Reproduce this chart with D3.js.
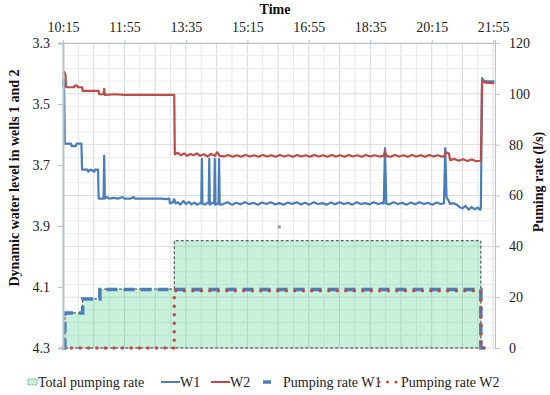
<!DOCTYPE html>
<html>
<head>
<meta charset="utf-8">
<script src="https://cdn.jsdelivr.net/npm/d3@7"></script>
<style>
  body { margin: 0; background: #fff; }
  .axis text { fill: #222; }
  .axis path, .axis line { stroke: #b9c3cc; }
  .title { font-weight: bold; fill: #111; }
  .legend text { fill: #222; }
</style>
</head>
<body>
<div id="chart"></div>
<script>
// tick labels
const timeTicks = ['10:15', '11:55', '13:35', '15:15', '16:55', '18:35', '20:15', '21:55']
const levelTicks = [3.3, 3.5, 3.7, 3.9, 4.1, 4.3]
const rateTicks = [0, 20, 40, 60, 80, 100, 120]

// dynamic water level, well 1 (m)
const levelW1 = [
  ['10:15', 3.44], ['10:16', 3.42], ['10:17', 3.47], ['10:18', 3.63], ['10:28', 3.63], ['10:29', 3.638],
  ['10:36', 3.638], ['10:37', 3.63], ['10:45', 3.63], ['10:46', 3.715], ['10:55', 3.715], ['10:56', 3.722],
  ['11:00', 3.715], ['11:06', 3.722], ['11:07', 3.715], ['11:12', 3.715], ['11:13', 3.81], ['11:21', 3.81],
  ['11:22', 3.67], ['11:23', 3.81], ['11:27', 3.805], ['11:30', 3.81], ['11:38', 3.808], ['11:45', 3.81],
  ['11:52', 3.805], ['11:55', 3.81], ['12:05', 3.81], ['12:10', 3.805], ['12:12', 3.81], ['12:25', 3.81],
  ['12:40', 3.81], ['12:55', 3.81], ['13:02', 3.812], ['13:08', 3.81], ['13:09', 3.826], ['13:14', 3.822],
  ['13:16', 3.812], ['13:18', 3.826], ['13:22', 3.822], ['13:26', 3.83], ['13:31', 3.818], ['13:35', 3.828],
  ['13:40', 3.821], ['13:44', 3.829], ['13:49', 3.823], ['13:53', 3.83], ['13:58', 3.825], ['14:00', 3.826],
  ['14:01', 3.68], ['14:02', 3.826], ['14:06', 3.83], ['14:10', 3.824], ['14:12', 3.826], ['14:13', 3.68],
  ['14:14', 3.83], ['14:18', 3.824], ['14:21', 3.826], ['14:22', 3.68], ['14:23', 3.83], ['14:27', 3.826],
  ['14:28', 3.826], ['14:29', 3.68], ['14:30', 3.83], ['14:36', 3.828], ['14:43', 3.822], ['14:50', 3.83],
  ['14:57', 3.824], ['15:04', 3.829], ['15:11', 3.822], ['15:18', 3.828], ['15:25', 3.824], ['15:32', 3.83],
  ['15:39', 3.823], ['15:46', 3.828], ['15:53', 3.822], ['16:00', 3.829], ['16:07', 3.825], ['16:14', 3.83],
  ['16:21', 3.823], ['16:28', 3.828], ['16:35', 3.822], ['16:42', 3.829], ['16:49', 3.824], ['16:56', 3.83],
  ['17:03', 3.822], ['17:10', 3.828], ['17:17', 3.825], ['17:24', 3.83], ['17:31', 3.823], ['17:38', 3.829],
  ['17:45', 3.822], ['17:52', 3.828], ['17:59', 3.824], ['18:06', 3.83], ['18:13', 3.822], ['18:20', 3.828],
  ['18:27', 3.825], ['18:34', 3.829], ['18:41', 3.822], ['18:48', 3.828], ['18:55', 3.824], ['18:57', 3.826],
  ['18:59', 3.645], ['19:01', 3.826], ['19:06', 3.829], ['19:13', 3.822], ['19:20', 3.828], ['19:27', 3.824],
  ['19:34', 3.83], ['19:41', 3.823], ['19:48', 3.829], ['19:55', 3.822], ['20:02', 3.828], ['20:09', 3.824],
  ['20:16', 3.83], ['20:23', 3.823], ['20:30', 3.828], ['20:35', 3.826], ['20:37', 3.645], ['20:39', 3.805],
  ['20:42', 3.815], ['20:45', 3.828], ['20:50', 3.825], ['20:56', 3.83], ['21:00', 3.838], ['21:05', 3.842],
  ['21:10', 3.834], ['21:15', 3.846], ['21:20', 3.838], ['21:25', 3.845], ['21:30', 3.84], ['21:34', 3.847],
  ['21:35', 3.84], ['21:37', 3.415], ['21:40', 3.424], ['21:45', 3.425], ['21:57', 3.426]
]

// dynamic water level, well 2 (m)
const levelW2 = [
  ['10:15', 3.40], ['10:17', 3.395], ['10:19', 3.405], ['10:20', 3.445], ['10:33', 3.445], ['10:34', 3.44],
  ['10:38', 3.44], ['10:39', 3.445], ['10:46', 3.445], ['10:47', 3.457], ['11:13', 3.457], ['11:14', 3.468],
  ['11:21', 3.468], ['11:22', 3.45], ['11:23', 3.47], ['11:40', 3.468], ['11:55', 3.47], ['12:20', 3.47],
  ['12:45', 3.47], ['13:16', 3.47], ['13:17', 3.665], ['13:22', 3.66], ['13:27', 3.668], ['13:32', 3.662],
  ['13:37', 3.67], ['13:42', 3.664], ['13:47', 3.668], ['13:53', 3.662], ['13:58', 3.67], ['14:04', 3.665],
  ['14:10', 3.672], ['14:16', 3.664], ['14:22', 3.67], ['14:26', 3.658], ['14:30', 3.67], ['14:37', 3.672],
  ['14:44', 3.667], ['14:51', 3.673], ['14:58', 3.668], ['15:05', 3.673], ['15:12', 3.667], ['15:19', 3.672],
  ['15:26', 3.668], ['15:33', 3.673], ['15:40', 3.667], ['15:47', 3.672], ['15:54', 3.668], ['16:01', 3.673],
  ['16:08', 3.667], ['16:15', 3.672], ['16:22', 3.668], ['16:29', 3.673], ['16:36', 3.667], ['16:43', 3.672],
  ['16:50', 3.668], ['16:57', 3.673], ['17:04', 3.667], ['17:11', 3.672], ['17:18', 3.668], ['17:25', 3.673],
  ['17:32', 3.667], ['17:39', 3.672], ['17:46', 3.668], ['17:53', 3.673], ['18:00', 3.667], ['18:07', 3.672],
  ['18:14', 3.668], ['18:21', 3.673], ['18:28', 3.667], ['18:35', 3.672], ['18:42', 3.668], ['18:50', 3.672],
  ['18:57', 3.67], ['18:59', 3.655], ['19:01', 3.67], ['19:08', 3.673], ['19:15', 3.667], ['19:22', 3.672],
  ['19:29', 3.668], ['19:36', 3.673], ['19:43', 3.667], ['19:50', 3.672], ['19:57', 3.668], ['20:04', 3.673],
  ['20:11', 3.667], ['20:18', 3.672], ['20:25', 3.668], ['20:32', 3.673], ['20:36', 3.67], ['20:38', 3.658],
  ['20:43', 3.662], ['20:45', 3.684], ['20:52', 3.68], ['20:59', 3.686], ['21:06', 3.681], ['21:13', 3.687],
  ['21:20', 3.682], ['21:27', 3.687], ['21:35', 3.686], ['21:37', 3.424], ['21:42', 3.43], ['21:57', 3.432]
]

// pumping rates (l/s)
const totalRate = [
  ['10:15', 0], ['10:18', 0], ['10:18', 13.8], ['10:47', 13.8], ['10:47', 19.3], ['11:15', 19.3],
  ['11:15', 23.2], ['13:16', 23.2], ['13:16', 42.2], ['21:35', 42.2], ['21:35', 0]
]
const rateW1 = [
  ['10:15', 0], ['10:18', 0], ['10:18', 13.8], ['10:47', 13.8], ['10:47', 19.3], ['11:15', 19.3],
  ['11:15', 23.0], ['21:35', 23.0], ['21:35', 0], ['21:50', 0]
]
const rateW2 = [
  ['10:15', 0], ['13:16', 0], ['13:16', 22.5], ['21:35', 22.5], ['21:35', 0], ['21:50', 0]
]
const strayMark = [['16:07', 3.903]]

const blue = '#4a7ebb'
const red = '#be4b48'
const serif = 'Liberation Serif'

const W = 550
const H = 395
const margin = { top: 43, right: 55, bottom: 47, left: 63 }

const parse = d3.timeParse('%H:%M')
const fmt = d3.timeFormat('%H:%M')

const svg = d3.select('#chart')
  .append('svg')
  .attr('width', W)
  .attr('height', H)
  .attr('font-family', serif)

const x = d3.scaleTime()
  .domain([parse('10:15'), parse('21:58')])
  .range([margin.left, W - margin.right])

const yLevel = d3.scaleLinear()
  .domain([3.3, 4.3])
  .range([margin.top, H - margin.bottom])

const yRate = d3.scaleLinear()
  .domain([0, 120])
  .range([H - margin.bottom, margin.top])

// gridlines
const grid = svg.append('g').attr('class', 'grid')
const vGrid = d3.range(0, 29).map(i => d3.timeMinute.offset(parse('10:15'), i * 25))
  .filter(d => d <= x.domain()[1])
grid.selectAll('line.v')
  .data(vGrid)
  .enter()
  .append('line')
  .attr('x1', d => x(d))
  .attr('x2', d => x(d))
  .attr('y1', margin.top)
  .attr('y2', H - margin.bottom)
  .attr('stroke', (d, i) => i % 2 === 0 ? '#d3d8dc' : '#e6e8ea')
  .attr('stroke-width', 1)

grid.selectAll('line.h')
  .data(d3.range(0, 121, 5))
  .enter()
  .append('line')
  .attr('x1', margin.left)
  .attr('x2', W - margin.right)
  .attr('y1', d => yRate(d))
  .attr('y2', d => yRate(d))
  .attr('stroke', d => d % 20 === 0 ? '#d9dcdf' : '#ebeced')
  .attr('stroke-width', 1)

const px = d => x(parse(d[0]))

// total pumping rate area
svg.append('path')
  .datum(totalRate)
  .attr('d', d3.area().x(px).y0(yRate(0)).y1(d => yRate(d[1])))
  .attr('fill', '#4ccc86')
  .attr('fill-opacity', 0.3)
  .attr('stroke', '#3a3a3a')
  .attr('stroke-width', 1)
  .attr('stroke-dasharray', '3,2')

// water levels
const levelLine = d3.line().x(px).y(d => yLevel(d[1]))
svg.append('path')
  .datum(levelW1)
  .attr('d', levelLine)
  .attr('fill', 'none')
  .attr('stroke', blue)
  .attr('stroke-width', 2.2)
  .attr('stroke-linejoin', 'round')

svg.append('path')
  .datum(levelW2)
  .attr('d', levelLine)
  .attr('fill', 'none')
  .attr('stroke', red)
  .attr('stroke-width', 2.2)
  .attr('stroke-linejoin', 'round')

// pumping rates of each well
const rateLine = d3.line().x(px).y(d => yRate(d[1]))
svg.append('path')
  .datum(rateW1)
  .attr('d', rateLine)
  .attr('fill', 'none')
  .attr('stroke', blue)
  .attr('stroke-width', 3.5)
  .attr('stroke-dasharray', '11,6')

svg.append('path')
  .datum(rateW2)
  .attr('d', rateLine)
  .attr('fill', 'none')
  .attr('stroke', red)
  .attr('stroke-width', 3.5)
  .attr('stroke-linecap', 'round')
  .attr('stroke-dasharray', '0,8.5')

svg.selectAll('rect.stray')
  .data(strayMark)
  .enter()
  .append('rect')
  .attr('x', d => px(d) - 1.5)
  .attr('y', d => yLevel(d[1]) - 1.5)
  .attr('width', 3)
  .attr('height', 3)
  .attr('fill', '#9a9a9a')

// axes
svg.append('g')
  .attr('class', 'axis')
  .attr('transform', `translate(${margin.left},0)`)
  .call(d3.axisLeft(yLevel).tickValues(levelTicks).tickFormat(d3.format('.1f')).tickSize(5).tickPadding(8))
  .attr('font-family', serif)
  .attr('font-size', 14)
  .call(g => g.select('.domain').attr('stroke-width', 2))

svg.append('g')
  .attr('class', 'axis')
  .attr('transform', `translate(${W - margin.right},0)`)
  .call(d3.axisRight(yRate).tickValues(rateTicks).tickSize(5).tickPadding(9))
  .attr('font-family', serif)
  .attr('font-size', 14)

svg.append('g')
  .attr('class', 'axis')
  .attr('transform', `translate(0,${margin.top})`)
  .call(d3.axisTop(x).tickValues(timeTicks.map(parse)).tickFormat(fmt).tickSize(3).tickPadding(8))
  .attr('font-family', serif)
  .attr('font-size', 14)

// titles
svg.append('text')
  .attr('class', 'title')
  .attr('x', 275)
  .attr('y', 14)
  .attr('font-size', 14)
  .attr('text-anchor', 'middle')
  .text('Time')

svg.append('text')
  .attr('class', 'title')
  .attr('transform', 'translate(19,178) rotate(-90)')
  .attr('font-size', 14)
  .attr('text-anchor', 'middle')
  .text('Dynamic water level in wells 1 and 2')

svg.append('text')
  .attr('class', 'title')
  .attr('transform', 'translate(542.5,182) rotate(-90)')
  .attr('font-size', 14)
  .attr('text-anchor', 'middle')
  .text('Puming rate (l/s)')

// legend
const lg = svg.append('g').attr('class', 'legend').attr('font-size', 14).attr('transform', 'translate(0,382)')
lg.append('rect')
  .attr('x', 28).attr('y', -3).attr('width', 9).attr('height', 6)
  .attr('fill', '#4ccc86').attr('fill-opacity', 0.3)
  .attr('stroke', '#7ab99a').attr('stroke-dasharray', '2,1')
lg.append('text').attr('x', 38).attr('y', 4.5).text('Total pumping rate')

lg.append('line').attr('x1', 161).attr('x2', 180).attr('stroke', blue).attr('stroke-width', 2)
lg.append('text').attr('x', 180).attr('y', 4.5).text('W1')

lg.append('line').attr('x1', 211).attr('x2', 230).attr('stroke', red).attr('stroke-width', 2)
lg.append('text').attr('x', 230).attr('y', 4.5).text('W2')

lg.append('line').attr('x1', 263).attr('x2', 271).attr('stroke', blue).attr('stroke-width', 3.5)
lg.append('text').attr('x', 283).attr('y', 4.5).text('Pumping rate W1')

lg.append('line').attr('x1', 379).attr('x2', 398).attr('stroke', red).attr('stroke-width', 3)
  .attr('stroke-linecap', 'round').attr('stroke-dasharray', '0,8.5')
lg.append('text').attr('x', 401).attr('y', 4.5).text('Pumping rate W2')
</script>
</body>
</html>
